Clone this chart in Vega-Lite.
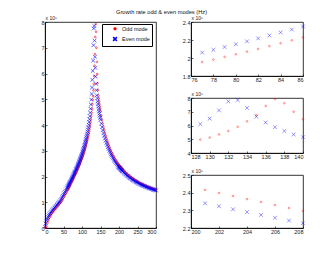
{
  "$schema": "https://vega.github.io/schema/vega-lite/v6.json",
  "autosize": {"type": "pad"},
  "padding": {"left": 40, "top": 8, "right": 10, "bottom": 17},
  "background": "white",
  "title": {"text": "Growth rate odd & even modes (Hz)", "font": "Liberation Sans", "fontSize": 5.7, "fontWeight": "normal", "color": "#111", "anchor": "middle", "dx": -12, "offset": 0},
  "config": {
    "view": {"stroke": "#000", "strokeWidth": 0.8},
    "axis": {"grid": false, "domainColor": "#000", "domainWidth": 0.8, "tickColor": "#000", "tickSize": -2, "tickWidth": 0.6, "labelFont": "Liberation Sans", "labelFontSize": 5.5, "labelColor": "#222", "labelPadding": 3, "titleFont": "Liberation Sans", "titleFontSize": 5, "titleFontWeight": "normal", "titleColor": "#222"},
    "legend": {"orient": "none", "legendX": 57, "legendY": 2, "strokeColor": "#000", "fillColor": "#fff", "padding": 2, "labelFont": "Liberation Sans", "labelFontSize": 5.5, "labelColor": "#111", "symbolOffset": 8, "rowPadding": 1, "labelOffset": 4}
  },
  "datasets": {
    "d": [
      {"x":0,"Even mode":0.05,"Odd mode":0.0},
      {"x":2,"Even mode":0.18,"Odd mode":0.02},
      {"x":4,"Even mode":0.28,"Odd mode":0.05},
      {"x":6,"Even mode":0.36,"Odd mode":0.18},
      {"x":8,"Even mode":0.42,"Odd mode":0.28},
      {"x":10,"Even mode":0.48,"Odd mode":0.36},
      {"x":12,"Even mode":0.525,"Odd mode":0.42},
      {"x":14,"Even mode":0.57,"Odd mode":0.48},
      {"x":16,"Even mode":0.61,"Odd mode":0.525},
      {"x":18,"Even mode":0.65,"Odd mode":0.57},
      {"x":20,"Even mode":0.69,"Odd mode":0.61},
      {"x":22,"Even mode":0.725,"Odd mode":0.65},
      {"x":24,"Even mode":0.76,"Odd mode":0.69},
      {"x":26,"Even mode":0.795,"Odd mode":0.725},
      {"x":28,"Even mode":0.83,"Odd mode":0.76},
      {"x":30,"Even mode":0.865,"Odd mode":0.795},
      {"x":32,"Even mode":0.9,"Odd mode":0.83},
      {"x":34,"Even mode":0.935,"Odd mode":0.865},
      {"x":36,"Even mode":0.97,"Odd mode":0.9},
      {"x":38,"Even mode":1.0,"Odd mode":0.935},
      {"x":40,"Even mode":1.034,"Odd mode":0.97},
      {"x":42,"Even mode":1.086,"Odd mode":1.0},
      {"x":44,"Even mode":1.138,"Odd mode":1.034},
      {"x":46,"Even mode":1.19,"Odd mode":1.086},
      {"x":48,"Even mode":1.243,"Odd mode":1.138},
      {"x":50,"Even mode":1.296,"Odd mode":1.19},
      {"x":52,"Even mode":1.349,"Odd mode":1.243},
      {"x":54,"Even mode":1.403,"Odd mode":1.296},
      {"x":56,"Even mode":1.457,"Odd mode":1.349},
      {"x":58,"Even mode":1.512,"Odd mode":1.403},
      {"x":60,"Even mode":1.567,"Odd mode":1.457},
      {"x":61,"Even mode":1.594,"Odd mode":1.484},
      {"x":62,"Even mode":1.622,"Odd mode":1.512},
      {"x":63,"Even mode":1.65,"Odd mode":1.539},
      {"x":64,"Even mode":1.678,"Odd mode":1.567},
      {"x":65,"Even mode":1.706,"Odd mode":1.594},
      {"x":66,"Even mode":1.735,"Odd mode":1.622},
      {"x":67,"Even mode":1.763,"Odd mode":1.65},
      {"x":68,"Even mode":1.792,"Odd mode":1.678},
      {"x":69,"Even mode":1.821,"Odd mode":1.706},
      {"x":70,"Even mode":1.85,"Odd mode":1.745},
      {"x":71,"Even mode":1.879,"Odd mode":1.773},
      {"x":72,"Even mode":1.909,"Odd mode":1.802},
      {"x":73,"Even mode":1.939,"Odd mode":1.831},
      {"x":74,"Even mode":1.969,"Odd mode":1.86},
      {"x":75,"Even mode":1.999,"Odd mode":1.89},
      {"x":76,"Even mode":2.029,"Odd mode":1.925},
      {"x":77,"Even mode":2.06,"Odd mode":1.955},
      {"x":78,"Even mode":2.091,"Odd mode":1.983},
      {"x":79,"Even mode":2.122,"Odd mode":2.012},
      {"x":80,"Even mode":2.153,"Odd mode":2.041},
      {"x":81,"Even mode":2.185,"Odd mode":2.071},
      {"x":82,"Even mode":2.218,"Odd mode":2.101},
      {"x":83,"Even mode":2.25,"Odd mode":2.132},
      {"x":84,"Even mode":2.284,"Odd mode":2.164},
      {"x":85,"Even mode":2.316,"Odd mode":2.196},
      {"x":86,"Even mode":2.35,"Odd mode":2.229},
      {"x":87,"Even mode":2.384,"Odd mode":2.262},
      {"x":88,"Even mode":2.418,"Odd mode":2.295},
      {"x":89,"Even mode":2.454,"Odd mode":2.328},
      {"x":90,"Even mode":2.489,"Odd mode":2.361},
      {"x":91,"Even mode":2.525,"Odd mode":2.394},
      {"x":92,"Even mode":2.562,"Odd mode":2.428},
      {"x":93,"Even mode":2.599,"Odd mode":2.462},
      {"x":94,"Even mode":2.637,"Odd mode":2.496},
      {"x":95,"Even mode":2.676,"Odd mode":2.531},
      {"x":96,"Even mode":2.715,"Odd mode":2.567},
      {"x":97,"Even mode":2.756,"Odd mode":2.603},
      {"x":98,"Even mode":2.797,"Odd mode":2.64},
      {"x":99,"Even mode":2.839,"Odd mode":2.678},
      {"x":100,"Even mode":2.882,"Odd mode":2.716},
      {"x":101,"Even mode":2.926,"Odd mode":2.756},
      {"x":102,"Even mode":2.972,"Odd mode":2.797},
      {"x":103,"Even mode":3.018,"Odd mode":2.839},
      {"x":104,"Even mode":3.067,"Odd mode":2.882},
      {"x":105,"Even mode":3.116,"Odd mode":2.926},
      {"x":106,"Even mode":3.168,"Odd mode":2.972},
      {"x":107,"Even mode":3.221,"Odd mode":3.018},
      {"x":108,"Even mode":3.276,"Odd mode":3.067},
      {"x":109,"Even mode":3.334,"Odd mode":3.116},
      {"x":110,"Even mode":3.394,"Odd mode":3.168},
      {"x":111,"Even mode":3.457,"Odd mode":3.221},
      {"x":112,"Even mode":3.523,"Odd mode":3.276},
      {"x":113,"Even mode":3.592,"Odd mode":3.334},
      {"x":114,"Even mode":3.666,"Odd mode":3.394},
      {"x":115,"Even mode":3.743,"Odd mode":3.457},
      {"x":116,"Even mode":3.826,"Odd mode":3.523},
      {"x":117,"Even mode":3.914,"Odd mode":3.592},
      {"x":118,"Even mode":4.009,"Odd mode":3.666},
      {"x":119,"Even mode":4.112,"Odd mode":3.743},
      {"x":120,"Even mode":4.223,"Odd mode":3.826},
      {"x":121,"Even mode":4.345,"Odd mode":3.914},
      {"x":122,"Even mode":4.48,"Odd mode":4.009},
      {"x":123,"Even mode":4.629,"Odd mode":4.112},
      {"x":124,"Even mode":4.796,"Odd mode":4.223},
      {"x":125,"Even mode":4.986,"Odd mode":4.345},
      {"x":126,"Even mode":5.204,"Odd mode":4.48},
      {"x":127,"Even mode":5.457,"Odd mode":4.629},
      {"x":128,"Even mode":5.756,"Odd mode":4.8},
      {"x":129,"Even mode":6.1,"Odd mode":4.98},
      {"x":130,"Even mode":6.5,"Odd mode":5.12},
      {"x":131,"Even mode":7.1,"Odd mode":5.35},
      {"x":132,"Even mode":7.75,"Odd mode":5.6},
      {"x":133,"Even mode":7.85,"Odd mode":5.9},
      {"x":134,"Even mode":7.28,"Odd mode":6.3},
      {"x":135,"Even mode":6.65,"Odd mode":6.75},
      {"x":136,"Even mode":6.22,"Odd mode":7.42},
      {"x":137,"Even mode":5.88,"Odd mode":7.92},
      {"x":138,"Even mode":5.6,"Odd mode":7.62},
      {"x":139,"Even mode":5.35,"Odd mode":7.0},
      {"x":140,"Even mode":5.15,"Odd mode":6.45},
      {"x":141,"Even mode":5.034,"Odd mode":5.98},
      {"x":142,"Even mode":4.923,"Odd mode":5.62},
      {"x":143,"Even mode":4.818,"Odd mode":5.36},
      {"x":144,"Even mode":4.718,"Odd mode":5.15},
      {"x":145,"Even mode":4.622,"Odd mode":5.034},
      {"x":146,"Even mode":4.531,"Odd mode":4.923},
      {"x":147,"Even mode":4.444,"Odd mode":4.818},
      {"x":148,"Even mode":4.36,"Odd mode":4.718},
      {"x":149,"Even mode":4.28,"Odd mode":4.622},
      {"x":150,"Even mode":4.203,"Odd mode":4.531},
      {"x":152,"Even mode":4.059,"Odd mode":4.36},
      {"x":154,"Even mode":3.926,"Odd mode":4.203},
      {"x":156,"Even mode":3.803,"Odd mode":4.059},
      {"x":158,"Even mode":3.688,"Odd mode":3.926},
      {"x":160,"Even mode":3.581,"Odd mode":3.803},
      {"x":162,"Even mode":3.481,"Odd mode":3.688},
      {"x":164,"Even mode":3.388,"Odd mode":3.581},
      {"x":166,"Even mode":3.301,"Odd mode":3.481},
      {"x":168,"Even mode":3.219,"Odd mode":3.388},
      {"x":170,"Even mode":3.141,"Odd mode":3.301},
      {"x":172,"Even mode":3.068,"Odd mode":3.219},
      {"x":174,"Even mode":2.999,"Odd mode":3.141},
      {"x":176,"Even mode":2.934,"Odd mode":3.068},
      {"x":178,"Even mode":2.872,"Odd mode":2.999},
      {"x":180,"Even mode":2.814,"Odd mode":2.934},
      {"x":182,"Even mode":2.758,"Odd mode":2.872},
      {"x":184,"Even mode":2.705,"Odd mode":2.814},
      {"x":186,"Even mode":2.654,"Odd mode":2.758},
      {"x":188,"Even mode":2.606,"Odd mode":2.705},
      {"x":190,"Even mode":2.56,"Odd mode":2.654},
      {"x":192,"Even mode":2.516,"Odd mode":2.606},
      {"x":194,"Even mode":2.474,"Odd mode":2.56},
      {"x":196,"Even mode":2.434,"Odd mode":2.516},
      {"x":198,"Even mode":2.395,"Odd mode":2.474},
      {"x":199,"Even mode":2.377,"Odd mode":2.454},
      {"x":200,"Even mode":2.358,"Odd mode":2.434},
      {"x":201,"Even mode":2.34,"Odd mode":2.416},
      {"x":202,"Even mode":2.323,"Odd mode":2.398},
      {"x":203,"Even mode":2.306,"Odd mode":2.381},
      {"x":204,"Even mode":2.29,"Odd mode":2.364},
      {"x":205,"Even mode":2.274,"Odd mode":2.347},
      {"x":206,"Even mode":2.258,"Odd mode":2.33},
      {"x":207,"Even mode":2.242,"Odd mode":2.313},
      {"x":208,"Even mode":2.227,"Odd mode":2.297},
      {"x":209,"Even mode":2.209,"Odd mode":2.281},
      {"x":210,"Even mode":2.194,"Odd mode":2.265},
      {"x":212,"Even mode":2.164,"Odd mode":2.232},
      {"x":214,"Even mode":2.136,"Odd mode":2.199},
      {"x":216,"Even mode":2.109,"Odd mode":2.169},
      {"x":218,"Even mode":2.082,"Odd mode":2.141},
      {"x":220,"Even mode":2.057,"Odd mode":2.114},
      {"x":222,"Even mode":2.032,"Odd mode":2.087},
      {"x":224,"Even mode":2.009,"Odd mode":2.062},
      {"x":226,"Even mode":1.986,"Odd mode":2.037},
      {"x":228,"Even mode":1.963,"Odd mode":2.014},
      {"x":230,"Even mode":1.942,"Odd mode":1.991},
      {"x":232,"Even mode":1.921,"Odd mode":1.968},
      {"x":234,"Even mode":1.9,"Odd mode":1.947},
      {"x":236,"Even mode":1.881,"Odd mode":1.926},
      {"x":238,"Even mode":1.861,"Odd mode":1.905},
      {"x":240,"Even mode":1.843,"Odd mode":1.886},
      {"x":242,"Even mode":1.825,"Odd mode":1.866},
      {"x":244,"Even mode":1.807,"Odd mode":1.848},
      {"x":246,"Even mode":1.79,"Odd mode":1.83},
      {"x":248,"Even mode":1.774,"Odd mode":1.812},
      {"x":250,"Even mode":1.757,"Odd mode":1.795},
      {"x":252,"Even mode":1.742,"Odd mode":1.779},
      {"x":254,"Even mode":1.726,"Odd mode":1.762},
      {"x":256,"Even mode":1.711,"Odd mode":1.747},
      {"x":258,"Even mode":1.697,"Odd mode":1.731},
      {"x":260,"Even mode":1.683,"Odd mode":1.716},
      {"x":262,"Even mode":1.669,"Odd mode":1.702},
      {"x":264,"Even mode":1.655,"Odd mode":1.688},
      {"x":266,"Even mode":1.642,"Odd mode":1.674},
      {"x":268,"Even mode":1.63,"Odd mode":1.66},
      {"x":270,"Even mode":1.617,"Odd mode":1.647},
      {"x":272,"Even mode":1.605,"Odd mode":1.635},
      {"x":274,"Even mode":1.593,"Odd mode":1.622},
      {"x":276,"Even mode":1.581,"Odd mode":1.61},
      {"x":278,"Even mode":1.57,"Odd mode":1.598},
      {"x":280,"Even mode":1.559,"Odd mode":1.586},
      {"x":282,"Even mode":1.548,"Odd mode":1.575},
      {"x":284,"Even mode":1.537,"Odd mode":1.564},
      {"x":286,"Even mode":1.527,"Odd mode":1.553},
      {"x":288,"Even mode":1.516,"Odd mode":1.542},
      {"x":290,"Even mode":1.506,"Odd mode":1.532},
      {"x":292,"Even mode":1.497,"Odd mode":1.521},
      {"x":294,"Even mode":1.487,"Odd mode":1.511},
      {"x":296,"Even mode":1.478,"Odd mode":1.502},
      {"x":298,"Even mode":1.469,"Odd mode":1.492},
      {"x":300,"Even mode":1.46,"Odd mode":1.483}
    ]
  },
  "bounds": "flush",
  "spacing": 35,
  "hconcat": [
    {
      "width": 111, "height": 206,
      "data": {"name": "d"},
      "transform": [{"fold": ["Odd mode", "Even mode"], "as": ["key", "y"]}],
      "mark": {"type": "point", "filled": false, "strokeWidth": 0.6, "opacity": 1},
      "encoding": {
        "x": {"field": "x", "type": "quantitative", "scale": {"domain": [0, 300], "nice": false, "zero": false}, "axis": {"values": [0, 50, 100, 150, 200, 250, 300], "title": null}},
        "y": {"field": "y", "type": "quantitative", "scale": {"domain": [0, 8], "nice": false}, "axis": {"values": [0, 1, 2, 3, 4, 5, 6, 7, 8], "title": "x 10⁵", "titleAngle": 0, "titleX": 0, "titleY": -2, "titleAlign": "left", "titleBaseline": "bottom"}},
        "color": {"field": "key", "type": "nominal", "title": null, "scale": {"domain": ["Odd mode", "Even mode"], "range": ["#ff0000", "#0000ff"]}},
        "shape": {"field": "key", "type": "nominal", "title": null, "scale": {"domain": ["Odd mode", "Even mode"], "range": ["circle", "M-1,-1L1,1M1,-1L-1,1"]}},
        "size": {"field": "key", "type": "nominal", "title": null, "scale": {"domain": ["Odd mode", "Even mode"], "range": [3, 14]}},
        "order": {"field": "key", "sort": "descending"}
      }
    },
    {
      "bounds": "flush",
      "spacing": 22,
      "vconcat": [
        {
          "width": 112, "height": 54,
          "data": {"name": "d"},
          "transform": [{"fold": ["Odd mode", "Even mode"], "as": ["key", "y"]}, {"filter": "datum.x >= 77 && datum.x <= 86"}],
          "mark": {"type": "point", "filled": false, "strokeWidth": 0.6},
          "encoding": {
            "x": {"field": "x", "type": "quantitative", "scale": {"domain": [76, 86], "nice": false, "zero": false}, "axis": {"values": [76, 78, 80, 82, 84, 86], "title": null}},
            "y": {"field": "y", "type": "quantitative", "scale": {"domain": [1.8, 2.4], "nice": false, "zero": false}, "axis": {"values": [1.8, 2, 2.2, 2.4], "format": "~g", "title": "x 10⁵", "titleAngle": 0, "titleX": 0, "titleY": -2, "titleAlign": "left", "titleBaseline": "bottom"}},
            "color": {"field": "key", "type": "nominal", "title": null, "scale": {"domain": ["Odd mode", "Even mode"], "range": ["#ff0000", "#0000ff"]}},
            "shape": {"field": "key", "type": "nominal", "title": null, "scale": {"domain": ["Odd mode", "Even mode"], "range": ["circle", "M-1,-1L1,1M1,-1L-1,1"]}},
            "size": {"field": "key", "type": "nominal", "title": null, "scale": {"domain": ["Odd mode", "Even mode"], "range": [3, 14]}},
            "order": {"field": "key", "sort": "descending"}
          }
        },
        {
          "width": 112, "height": 55,
          "data": {"name": "d"},
          "transform": [{"fold": ["Odd mode", "Even mode"], "as": ["key", "y"]}, {"filter": "datum.x >= 129 && datum.x <= 140"}],
          "mark": {"type": "point", "filled": false, "strokeWidth": 0.6},
          "encoding": {
            "x": {"field": "x", "type": "quantitative", "scale": {"domain": [128, 140], "nice": false, "zero": false}, "axis": {"values": [128, 130, 132, 134, 136, 138, 140], "title": null}},
            "y": {"field": "y", "type": "quantitative", "scale": {"domain": [4, 8], "nice": false, "zero": false}, "axis": {"values": [4, 5, 6, 7, 8], "title": "x 10⁵", "titleAngle": 0, "titleX": 0, "titleY": -2, "titleAlign": "left", "titleBaseline": "bottom"}},
            "color": {"field": "key", "type": "nominal", "title": null, "scale": {"domain": ["Odd mode", "Even mode"], "range": ["#ff0000", "#0000ff"]}},
            "shape": {"field": "key", "type": "nominal", "title": null, "scale": {"domain": ["Odd mode", "Even mode"], "range": ["circle", "M-1,-1L1,1M1,-1L-1,1"]}},
            "size": {"field": "key", "type": "nominal", "title": null, "scale": {"domain": ["Odd mode", "Even mode"], "range": [3, 14]}},
            "order": {"field": "key", "sort": "descending"}
          }
        },
        {
          "width": 112, "height": 53,
          "data": {"name": "d"},
          "transform": [{"fold": ["Odd mode", "Even mode"], "as": ["key", "y"]}, {"filter": "datum.x >= 201 && datum.x <= 208"}],
          "mark": {"type": "point", "filled": false, "strokeWidth": 0.6},
          "encoding": {
            "x": {"field": "x", "type": "quantitative", "scale": {"domain": [200, 208], "nice": false, "zero": false}, "axis": {"values": [200, 202, 204, 206, 208], "title": null}},
            "y": {"field": "y", "type": "quantitative", "scale": {"domain": [2.2, 2.5], "nice": false, "zero": false}, "axis": {"values": [2.2, 2.3, 2.4, 2.5], "format": "~g", "title": "x 10⁵", "titleAngle": 0, "titleX": 0, "titleY": -2, "titleAlign": "left", "titleBaseline": "bottom"}},
            "color": {"field": "key", "type": "nominal", "title": null, "scale": {"domain": ["Odd mode", "Even mode"], "range": ["#ff0000", "#0000ff"]}},
            "shape": {"field": "key", "type": "nominal", "title": null, "scale": {"domain": ["Odd mode", "Even mode"], "range": ["circle", "M-1,-1L1,1M1,-1L-1,1"]}},
            "size": {"field": "key", "type": "nominal", "title": null, "scale": {"domain": ["Odd mode", "Even mode"], "range": [3, 14]}},
            "order": {"field": "key", "sort": "descending"}
          }
        }
      ]
    }
  ]
}
